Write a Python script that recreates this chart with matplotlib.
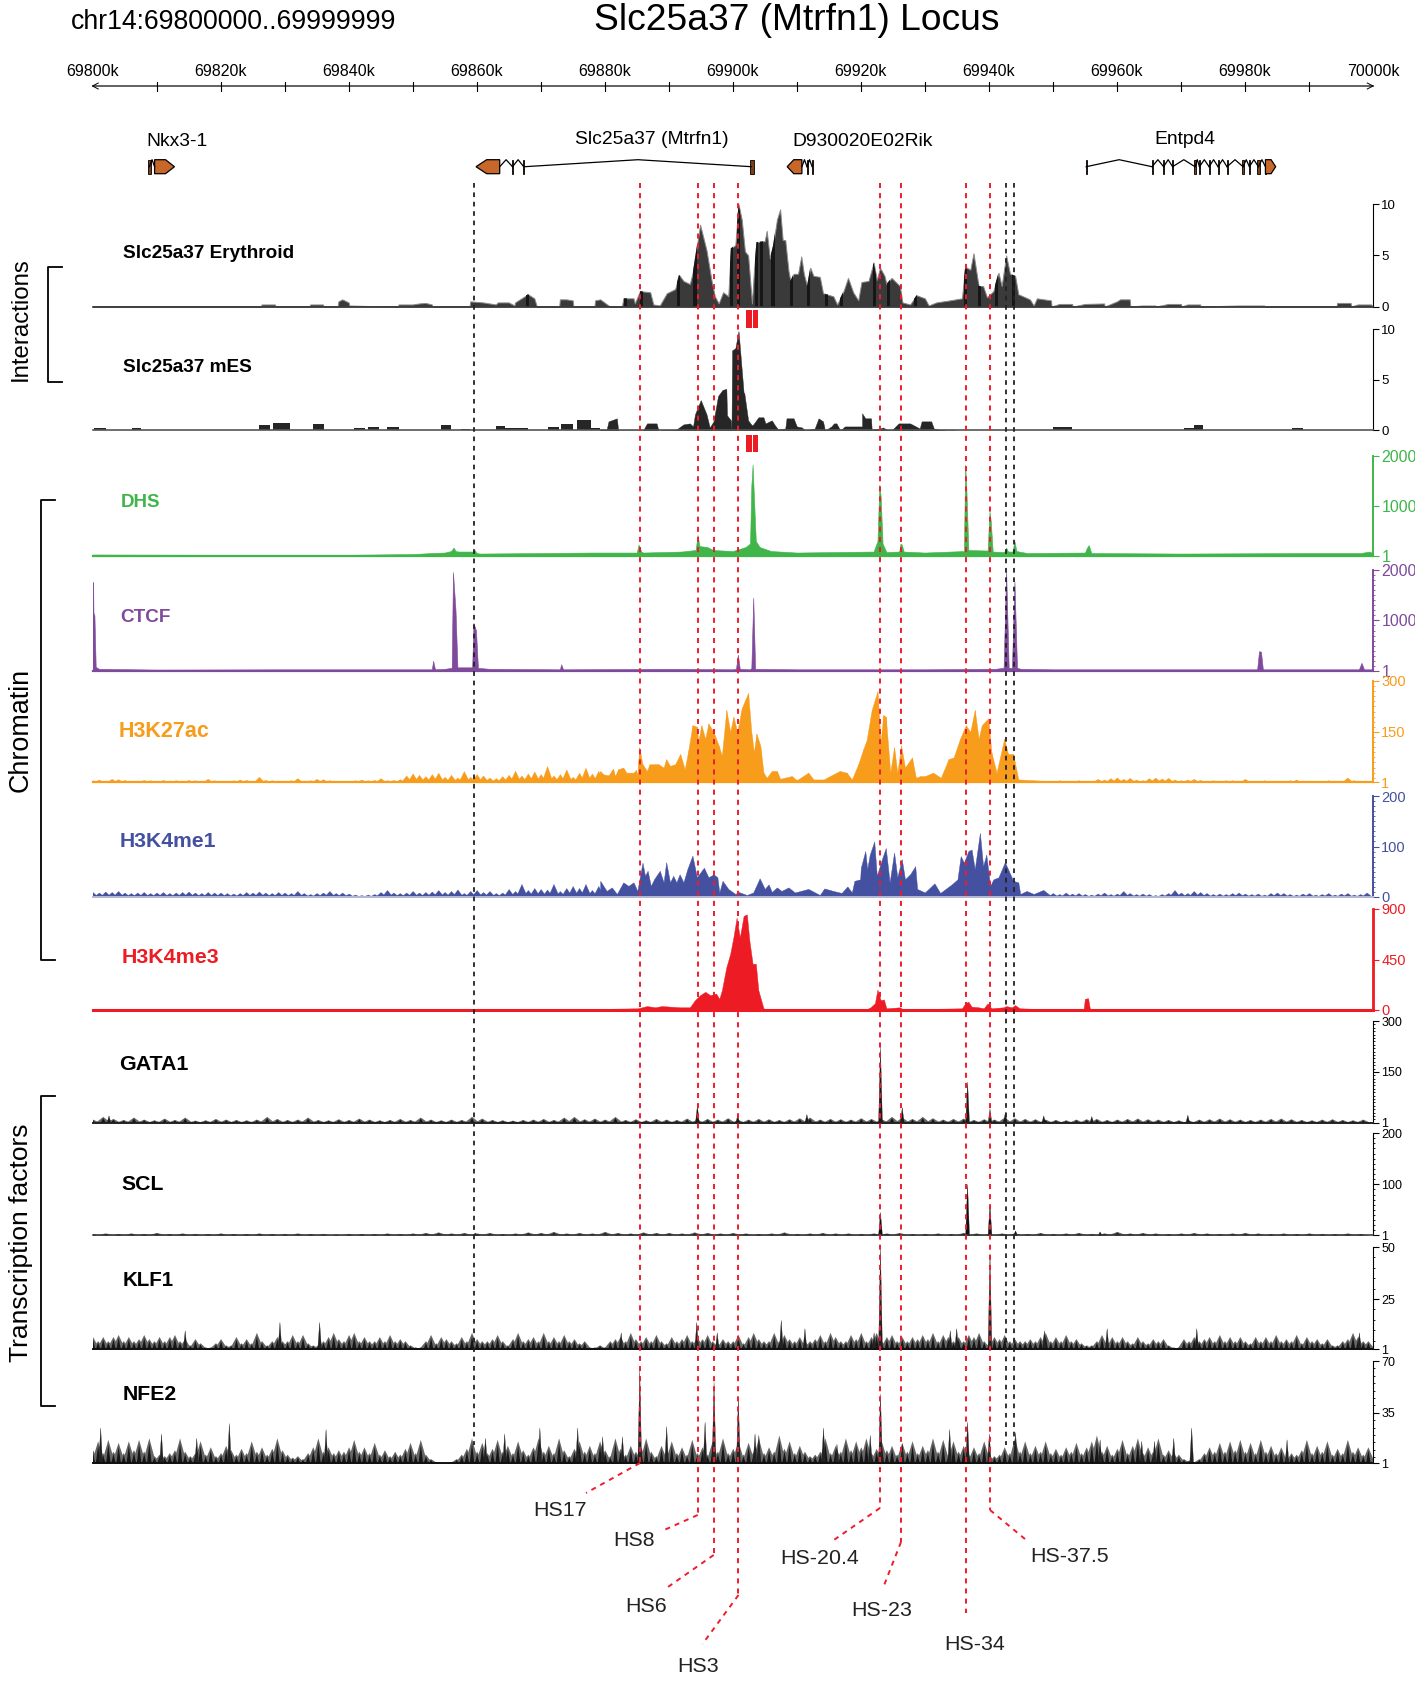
import numpy as np
import matplotlib
matplotlib.use("Agg")
import matplotlib.pyplot as plt
from matplotlib.ticker import MultipleLocator
from matplotlib.transforms import ScaledTranslation

plt.rcParams["font.family"] = ["Liberation Sans", "DejaVu Sans"]

W, H = 1415, 1686
X0, X1 = 92.5, 1373.0

# all x values are kb from 69800k
ery_x = [0, 26.3, 26.4, 28.5, 28.6, 33.9, 34, 36, 36.1, 38.3, 38.4, 39, 40, 40.1, 43, 47.7, 47.8, 50, 51, 52, 53, 53.1,
         58.9, 59, 61, 62, 63, 63.3, 65, 65.9, 66, 67, 68, 69, 69.4, 72.9, 73, 74, 75, 75.1, 78.4, 78.5,
         79.3, 80.8, 82.7, 82.9, 84.5, 84.7, 85.5, 87.1, 87.6, 88.6, 89.7, 91, 91.6, 92.3, 93.3, 93.8, 94.9, 95.9,
         96.7, 97.2, 97.8, 98.5, 99.3, 99.7, 100.4, 100.9, 101.4, 101.9, 102.4, 103, 103.3, 103.7, 105, 105.3, 105.8,
         106.3, 106.9, 107.4, 107.8, 108.2, 108.7, 109, 109.5, 110.2, 110.7, 111.1, 111.6, 112.1, 112.6, 113.6, 114.1,
         115.7, 116.3, 117.3, 118, 118.8, 119.6, 120.1, 121.2, 122, 122.5, 123, 123.7, 124, 124.8, 126.1, 126.5,
         127.7, 128.7, 130, 130.6, 131.8, 133.9, 135.8, 136.3, 137.1, 137.6, 138.4, 139.1, 139.7, 140.7, 141.5,
         142, 142.7, 143.3, 144.1, 144.6, 146.4, 147, 147.5, 149.7, 149.8, 151, 153, 153.1, 155, 158, 158.1, 160,
         160.5, 162, 162.1, 163.9, 166, 166.1, 168, 170, 170.1, 171, 173, 173.1, 179, 183, 183.1, 194.3, 194.4, 196.5,
         196.6, 197.6, 199.7, 200]
ery_y = [0, 0, .2, .2, 0, 0, .2, .2, 0, 0, .5, .7, .4, .1, .05, 0, .2, .2, .3, .35, .2, 0,
         0, .5, .4, .3, .2, .4, .4, .1, .4, .8, 1.2, .8, 0, 0, .7, .7, .6, 0, 0, .6,
         .7, 0, 0, .8, .8, .3, 1.5, 1.4, .2, .1, 1.3, 1.7, 3.1, 2.5, 2.2, 3.5, 8, 5.5,
         2.5, 1, .3, 1.4, 1, 5.7, 6, 10, 8.5, 5.4, 5, .3, 3.4, 6.3, 6.4, 7.4, 4.7,
         6, 8.5, 9.5, 6.5, 6.5, 3.5, 2.5, 3.2, 3.2, 4.9, 3.2, 2, 3.8, 3, 2.9, 1.3,
         1, .2, 1.5, 2.8, 1.4, .6, 2.4, 2.5, 4.3, 2.6, 3.8, 3, 2.2, 2.8, 2, .4,
         .2, 1.1, .8, .1, .4, .6, .8, 3.9, 3.6, 5.2, 2, 2, .9, 1.5, 3.3,
         2, 5, 3.2, 3, 1.2, .7, .1, .8, .6, 0, .25, .25, 0, .25, .3, 0, .5,
         .7, .7, 0, .1, .1, 0, .25, .25, 0, .2, .2, 0, .1, .1, 0, 0, .35, .35,
         0, .2, .2, 0]
ery_dark_bands = [68, 83.2, 85.8, 91.5, 94.1, 99.8, 100.9, 103.7, 104.5, 106.3, 109.2, 111.8, 114.7, 117, 122.2, 124.3,
                  128.5, 136.3, 138.6, 141.2, 143.8]

mes_x = [79.3, 80.3, 80.6, 81.9, 82.1, 86, 86.6, 88.1, 88.4, 91.2, 92.3, 93.3, 93.8, 94.1, 95, 95.9, 96.4, 97, 97.7,
         98.4, 99, 99.1, 99.7, 99.8, 99.9, 100.4, 100.9, 101.7, 101.8, 102.4, 103, 103.2, 104, 104.8, 105.1, 106.1,
         106.6, 107.1, 108.2, 108.4, 109.5, 110, 110.8, 111.3, 112.8, 113.4, 114.1, 114.4, 115.4, 115.8, 116.2, 116.8,
         117.5, 118.3, 118.9, 120.2, 120.2, 120.7, 121.6, 121.7, 123, 123.5, 124, 124.8, 125.9, 127.7, 129.2, 129.5,
         131, 131.4, 132, 133.4, 133.5, 134.5, 134.8]
mes_y = [.1, .1, .9, 1.2, 0, 0, .7, .7, 0, .1, .6, .7, .4, 1.6, 3, 1.6, .3, .9, 3.4,
         4, 4.1, 1.5, 1, 0, 7.9, 8.1, 9.8, 3.7, 3.7, 1, .5, .6, 1.3, 1.3, .7, 1,
         .5, .1, .2, 1.2, 1.2, .4, .3, 0, .2, 1.2, .9, 0, .4, .7, .7, 0,
         .4, .4, .4, .4, 1.7, 1.2, 1.2, .1, .2, .3, .1, 0, .7, .7, .2, .9,
         .9, .2, .1, 0, 0, 0, 0]
mes_block_start = [.3, 6.2, 26, 28.2, 34.5, 40.9, 43, 46, 54.5, 57.6, 63, 64.4, 71.2, 73.1, 75.7, 77.8, 150, 170.5, 172, 187.3]
mes_block_end = [2.1, 7.6, 27.8, 30.9, 36.2, 42.6, 44.7, 47.8, 56, 59, 64.4, 68, 72.9, 75, 77.8, 79.3, 153, 172, 173.4, 189]
mes_block_val = [.2, .2, .5, .7, .6, .2, .3, .3, .5, .1, .4, .2, .3, .6, 1, .2, .3, .25, .5, .2]

dhs_x = [0, 20, 40, 50, 53, 55, 56, 56.4, 56.7, 57.2, 59.4, 59.7, 60, 60.5, 70, 78, 85, 85.3, 85.7, 86, 92, 94.2, 94.5, 94.8, 96, 97,
         100, 102, 102.7, 102.9, 103.1, 103.3, 103.6, 104.2, 106, 110, 122, 122.6, 122.9, 123.1, 123.4, 124, 126, 126.2, 126.4, 126.7, 130,
         136.1, 136.3, 136.5, 136.8, 139.8, 140.1, 140.3, 140.6, 142.4, 142.7, 143, 143.7, 144, 144.3, 146, 155, 155.3, 155.6, 156, 170, 190, 198, 199.5, 200]
dhs_y = [30, 25, 25, 40, 60, 70, 100, 170, 100, 90, 90, 120, 60, 50, 60, 70, 70, 230, 90, 70, 90, 120, 420, 200, 180, 120,
         100, 180, 250, 1400, 1830, 1200, 300, 180, 100, 70, 90, 300, 1430, 1200, 250, 80, 90, 250, 230, 90, 70,
         100, 1830, 1300, 120, 110, 890, 700, 90, 80, 170, 90, 90, 300, 100, 60, 70, 160, 220, 60, 50, 60, 60, 90, 50]

ctcf_x = [0, .1, .15, .3, .5, 1, 10, 30, 53, 53.2, 53.5, 55, 56.1, 56.3, 56.7, 57, 59.3, 59.5, 59.9, 60.2, 62, 73, 73.2, 73.5, 90, 100,
          100.5, 100.8, 101.1, 102.6, 102.9, 103.2, 103.5, 110, 130, 141, 142.3, 142.7, 143.1, 143.6, 144, 144.4, 145, 150, 181.9, 182.2, 182.5,
          182.8, 190, 197.8, 198.2, 198.6, 200]
ctcf_y = [1760, 1760, 1150, 1100, 80, 40, 25, 30, 30, 200, 30, 40, 60, 1960, 1200, 70, 70, 950, 800, 60, 40, 30, 130, 30, 40, 30,
          40, 320, 40, 30, 50, 1450, 40, 30, 30, 40, 60, 1980, 60, 60, 1770, 60, 40, 30, 30, 390, 380,
          30, 30, 30, 160, 30, 30]

k27_x = [79.3, 79.8, 80.6, 81.3, 81.6, 82.1, 82.9, 83.4, 84.5, 84.9, 85.1, 85.4, 85.9, 86.6, 87, 87.9, 88.4, 89.2, 89.6, 90.2,
         91, 91.8, 92.5, 93.1, 93.7, 94.4, 94.6, 95.1, 95.7, 96.2, 97, 97.8, 98.3, 99, 99.6, 100.1, 100.7, 101.4, 102.4, 102.9,
         103.3, 103.7, 104.3, 104.8, 105.3, 106.1, 106.9, 107.4, 109.2, 110, 111.8, 112.6, 114.2, 115.2, 116.7, 117.8, 118.6,
         119.6, 120.4, 120.9, 121.7, 122.6, 123.1, 123.5, 123.9, 124.6, 125.2, 125.7, 126.3, 126.9, 128, 128.6, 129.3, 130,
         131.3, 132.5, 133.7, 134.5, 135.5, 136.4, 137.1, 137.8, 138.4, 138.9, 139.9, 140.4, 141.2, 142.4, 143, 143.8, 144.6, 149.6]
k27_y = [35, 25, 22, 42, 20, 40, 45, 30, 30, 38, 20, 105, 55, 35, 55, 55, 55, 45, 70, 50,
         55, 85, 40, 100, 170, 165, 120, 170, 130, 175, 150, 110, 80, 215, 150, 195, 150, 220, 265, 150,
         90, 145, 110, 30, 15, 35, 35, 12, 20, 8, 30, 10, 10, 20, 35, 30, 10,
         55, 100, 125, 215, 270, 120, 200, 195, 30, 105, 30, 110, 45, 75, 15, 20, 20,
         30, 15, 70, 75, 130, 170, 150, 215, 130, 170, 190, 90, 30, 130, 85, 85, 10, 5]
k27_left = [8, 10, 7, 12, 11, 9, 6, 7, 9, 8, 5, 9, 7, 8, 7, 9, 8, 7, 12, 8, 6, 7, 8, 10, 9, 7, 18, 9, 8, 7,
            7, 8, 14, 7, 8, 12, 11, 8, 6, 6, 5, 8, 10, 8, 9, 14, 8, 9, 11, 22, 28, 24, 20, 26, 30, 18, 24, 16, 35, 18,
            26, 22, 16, 14, 20, 24, 36, 22, 28, 34, 26, 50, 22, 26, 40, 18, 30, 45, 28, 36]
k27_right = [6, 8, 7, 6, 8, 5, 6, 12, 10, 14, 16, 12, 15, 10, 8, 14, 16, 13, 15, 10, 8, 10, 12, 9, 7,
             8, 7, 8, 8, 7, 12, 6, 5, 8, 6, 7, 6, 8, 10, 7, 6, 5, 6, 8, 7, 5, 16, 8, 6, 5]

me1_x = [79.3, 80.3, 81.1, 81.9, 82.9, 83.7, 84.5, 85.1, 85.9, 86.3, 86.7, 87.2, 87.7, 88.6, 89.2, 89.6, 90.2, 90.7, 91.2, 91.7,
         92.3, 92.9, 93.7, 94.4, 94.9, 95.5, 96.2, 97, 97.6, 97.9, 98.4, 99.3, 100.4, 100.9, 102.2, 103.2, 104.2, 105, 105.6, 106.1,
         106.9, 107.6, 108.7, 109.7, 111.8, 113.6, 114.3, 115.7, 117, 117.9, 118.6, 119, 119.9, 120, 120.7, 121, 121.4, 122.1, 122.5, 123.3,
         123.9, 124.5, 125.2, 125.7, 126.4, 126.9, 127.7, 128.5, 128.8, 130, 131.5, 132.4, 134.2, 135.1, 135.6, 136.1, 136.8, 137.3, 137.8, 138.6,
         139.1, 139.6, 140.2, 140.7, 141.5, 142.5, 143, 143.8, 144.6, 144.9, 145.9, 147, 148.5, 149.6]
me1_y = [32, 12, 19, 6, 29, 22, 29, 12, 68, 42, 52, 22, 35, 52, 29, 69, 29, 42, 29, 45,
         29, 55, 82, 39, 48, 58, 39, 45, 39, 9, 32, 16, 6, 10, 4, 9, 37, 16, 25, 10,
         19, 12, 19, 9, 16, 4, 17, 12, 8, 21, 9, 32, 35, 58, 91, 55, 84, 110, 42, 75,
         97, 29, 88, 39, 75, 35, 45, 61, 16, 9, 27, 8, 25, 35, 81, 68, 91, 94, 55, 127,
         61, 84, 22, 35, 39, 69, 55, 32, 29, 6, 12, 6, 14, 3]
me1_left = [10, 9, 11, 10, 12, 9, 8, 9, 10, 8, 9, 10, 8, 9, 10, 11, 9, 8, 10, 9, 9, 8, 7, 8, 10, 9, 11, 9, 8, 10,
            9, 8, 12, 8, 6, 8, 9, 12, 8, 9, 7, 5, 4, 5, 6, 10, 14, 9, 8, 9, 12, 9, 10, 11, 14, 10, 12, 15, 8, 12,
            14, 10, 12, 8, 9, 16, 12, 26, 14, 18, 16, 15, 26, 12, 18, 22, 18, 26, 14, 22]
me1_right = [8, 6, 9, 7, 8, 6, 5, 7, 9, 6, 7, 12, 8, 6, 7, 6, 4, 6, 8, 14, 9, 8, 12, 10, 8,
             6, 7, 6, 8, 9, 7, 6, 7, 5, 8, 9, 8, 6, 5, 7, 8, 5, 6, 8, 5, 7, 8, 5, 6, 9]

me3_x = [0, 60, 79.3, 85.2, 86.6, 87.9, 88.9, 91.8, 93.3, 94.1, 94.9, 95.7, 96.5, 97.4, 97.9, 98.3, 99, 99.6, 100.1, 100.6,
         101.1, 101.7, 102.2, 102.6, 103.1, 103.6, 104, 104.8, 105.3, 120.9, 121.5, 122.2, 122.6, 123.1, 123.6, 124, 126.1, 126.6,
         135.8, 136.3, 136.8, 137.3, 138.4, 139.2, 139.8, 140.4, 142.3, 142.7, 143.6, 144.1, 144.8, 149.6, 154.8, 155, 155.5, 155.8, 200]
me3_y = [0, 5, 10, 15, 35, 24, 35, 24, 24, 88, 132, 162, 132, 147, 100, 176, 382, 500, 647, 823,
         647, 838, 853, 617, 412, 412, 176, 15, 6, 6, 24, 59, 182, 88, 94, 15, 24, 6,
         15, 59, 74, 30, 24, 15, 59, 15, 24, 35, 24, 44, 15, 6, 5, 100, 105, 5, 0]

# GATA1 / SCL backgrounds, then sharp peaks on top
gata1_bg = [11, 19, 13, 10, 17, 11, 9, 14, 10, 17, 8, 9, 13, 11, 10, 9, 11, 19, 13, 10, 11, 17, 10, 9, 12, 10, 14, 11, 9, 10,
            13, 10, 17, 11, 9, 11, 10, 19, 14, 10, 9, 8, 10, 11, 13, 10, 17, 19, 12, 14, 11, 19, 10, 12, 9, 13, 11, 10, 14, 11,
            13, 11, 15, 10, 11, 13, 12, 10, 12, 15, 17, 11, 13, 12, 11, 15, 13, 12, 19, 17, 13, 19, 15, 11, 13, 14, 10, 12, 11, 17,
            15, 13, 12, 11, 10, 9, 11, 12, 13, 10, 11, 13, 14, 12, 11, 10, 9, 8, 11, 12, 14, 12, 11, 10, 11, 13, 14, 12, 10, 9,
            11, 12, 10, 9, 11]
gata1_pk_x = [94.4, 100.7, 111.5, 123, 126.4, 136.6, 140.1, 142.5, 156, 171, 148.5, 2.5]
gata1_pk_y = [52, 24, 26, 225, 46, 122, 42, 32, 20, 24, 22, 22]
scl_bg = [4, 5, 4, 5, 4, 6, 4, 5, 4, 4, 5, 4, 4, 5, 4, 4, 5, 4, 4, 3, 4, 4, 4, 5, 4, 5, 6, 7, 5, 6, 5, 6, 4, 5, 7, 6, 8, 5, 6, 5,
          8, 6, 5, 7, 6, 6, 5, 7, 6, 5, 6, 5, 4, 5, 7, 4, 5, 6, 5, 5, 4, 5, 5, 6, 4, 4, 5, 4, 6, 5, 4, 5, 5, 4, 6, 4, 5, 6, 4, 5,
          8, 5, 6, 5, 4, 5, 6, 5, 4, 5, 6, 5, 4, 5, 4, 5, 4, 4, 5, 4]
scl_pk_x = [123, 136.6, 140.1, 144.1, 157.3, 59.7]
scl_pk_y = [46, 101, 62, 10, 8, 6]

klf1_bg = [7, 5, 7, 5, 7, 8, 5, 7, 5, 6, 8, 6, 5, 7, 5, 7, 8, 5, 6, 3, 6, 4, 2, 2, 4,
           6, 3, 3, 7, 4, 6, 4, 9, 5, 3, 5, 7, 5, 5, 8, 5, 8, 4, 3, 3, 5, 7, 9, 6, 5,
           8, 9, 5, 7, 5, 5, 7, 5, 8, 5, 6, 5, 3, 2, 2, 5, 8, 4, 7, 6, 5, 4, 7, 5, 9,
           6, 5, 5, 6, 8, 5, 3, 6, 9, 5, 6, 7, 5, 9, 5, 7, 5, 8, 5, 6, 4, 5, 2, 2, 3,
           2, 5, 6, 7, 5, 9, 6, 5, 7, 5, 8, 5, 4, 7, 5, 6, 8, 5, 7, 6, 8, 5, 4, 6, 5,
           5, 8, 4, 7, 9, 6, 5, 5, 9, 5, 8, 6, 5, 7, 5, 5, 6, 8, 5, 9, 7, 5, 5, 8, 6,
           9, 5, 7, 9, 5, 7, 8, 5, 7, 5, 7, 6, 8, 6, 9, 5, 8, 7, 5, 7, 5, 8, 7, 9, 5,
           4, 7, 6, 8, 5, 6, 5, 5, 6, 5, 7, 9, 5, 7, 5, 8, 5, 6, 4, 3, 3, 5, 8, 5, 7,
           5, 7, 5, 4, 7, 5, 4, 6, 5, 6, 3, 2, 2, 6, 5, 7, 5, 6, 7, 5, 8, 5, 7, 5, 7,
           5, 4, 7, 5, 7, 5, 8, 5, 6, 5, 8, 4, 7, 5, 6, 4, 6, 3, 3, 5, 6, 9, 7, 5, 5]
klf1_pk_x = [14.4, 29.2, 35.4, 94.3, 107.5, 111.2, 123, 133.9, 134.9, 140.1, 148.6, 158.4, 172.4, 197.8, 82.5, 122, 97.5]
klf1_pk_y = [10, 14, 14, 14, 15, 11, 50, 10, 11, 47, 10, 11, 11, 9, 9, 9, 9]

nfe2_bg = [10, 16, 8, 17, 9, 15, 8, 16, 10, 17, 9, 18, 6, 7, 6, 8, 10, 18, 9, 6, 8, 16, 7, 12, 6,
           8, 13, 10, 7, 11, 8, 16, 9, 12, 7, 11, 18, 10, 7, 5, 6, 4, 8, 12, 18, 9, 12, 8, 10, 9,
           12, 17, 9, 12, 8, 15, 7, 10, 6, 9, 7, 11, 15, 8, 17, 7, 4, 2, 1, 1, 2, 4, 7, 11, 18,
           9, 15, 8, 11, 17, 9, 13, 8, 16, 10, 7, 12, 18, 9, 13, 8, 18, 10, 6, 11, 16, 9, 13, 8, 16,
           10, 6, 18, 11, 7, 13, 9, 12, 18, 9, 6, 13, 10, 16, 8, 12, 7, 17, 8, 12, 7, 16, 9, 18, 8,
           11, 16, 7, 15, 9, 18, 8, 12, 9, 20, 11, 16, 8, 13, 9, 6, 7, 9, 18, 8, 13, 9, 18, 10, 16,
           12, 18, 8, 11, 16, 10, 13, 7, 15, 9, 16, 8, 13, 10, 18, 9, 17, 7, 16, 9, 13, 7, 12, 8, 16,
           7, 6, 7, 12, 8, 18, 9, 16, 8, 13, 9, 16, 8, 11, 7, 12, 9, 15, 8, 12, 16, 20, 9, 13, 7,
           11, 17, 8, 13, 18, 8, 12, 9, 18, 7, 10, 8, 7, 4, 3, 2, 4, 8, 12, 9, 15, 9, 16, 10, 17,
           9, 15, 8, 17, 9, 13, 8, 12, 6, 8, 7, 10, 17, 8, 13, 9, 16, 7, 11, 8, 17, 9, 12, 7, 12]
nfe2_pk_x = [1.2, 10.7, 16.2, 21.3, 36.4, 61.3, 64.3, 69.8, 75.7, 79.6, 82.7, 85.4, 89.6, 95.6, 97, 100.8, 103.4, 104,
             114.1, 116.2, 121.4, 123, 126.4, 133.8, 136.6, 140, 144.1, 157.3, 163.8, 165.8, 168.8, 171.6, 186.5]
nfe2_pk_y = [25, 21, 18, 28, 24, 18, 21, 25, 25, 19, 19, 64, 26, 29, 56, 45, 21, 20,
             25, 14, 20, 48, 14, 24, 29, 21, 22, 17, 16, 16, 18, 25, 17]

HS_LINES = [85.51, 94.52, 97.02, 100.82, 123.0, 126.3, 136.5, 140.2]
BLACK_LINES = [59.6, 142.7, 144.0]
RED_BAR_START = [102.0, 103.1]
RED_BAR_END = [102.96, 103.9]


def px2kb(p):
    return (p - X0) / (X1 - X0) * 200.0


fig = plt.figure(figsize=(W / 100, H / 100), dpi=100, facecolor="white")


def track_ax(top, base, ymin, ymax, ticks, color, fs, minor=None, lw=1.0, top_shift=0):
    ax = fig.add_axes([X0 / W, 1 - base / H, (X1 - X0) / W, (base - top) / H])
    ax.set_xlim(0, 200)
    ax.set_ylim(ymin, ymax)
    ax.patch.set_alpha(0)
    for s in ["left", "top", "bottom"]:
        ax.spines[s].set_visible(False)
    ax.spines["right"].set_color(color)
    ax.spines["right"].set_linewidth(lw)
    ax.xaxis.set_visible(False)
    ax.yaxis.tick_right()
    ax.set_yticks(ticks)
    labels = ax.set_yticklabels([str(t) for t in ticks], fontsize=fs, color=color)
    if top_shift:
        labels[-1].set_transform(labels[-1].get_transform() + ScaledTranslation(0, -top_shift / 100, fig.dpi_scale_trans))
    ax.tick_params(axis="y", which="major", length=4, width=0.8, color=color, pad=2)
    if minor:
        ax.yaxis.set_minor_locator(MultipleLocator(minor))
        ax.tick_params(axis="y", which="minor", length=1.5, width=0.6, color=color)
    return ax


def baseline(ax, y, color, lw):
    ax.axhline(y, color=color, lw=lw, clip_on=False, zorder=5)


def spikes(ax, xs, ys, base, color, hw=0.3):
    for x, y in zip(xs, ys):
        ax.fill_between([x - hw, x, x + hw], base, [base, y, base], color=color, lw=0.2)


def noise(ax, xs, ys, base, hw):
    # grey flank with a dark core, same look as the browser tracks
    for x, y in zip(xs, ys):
        ax.fill_between([x - hw, x, x + hw], base, [base, y, base], color="#666666", lw=0)
    for x, y in zip(xs, ys):
        core = base + (y - base) * 0.8
        ax.fill_between([x - hw * 0.35, x, x + hw * 0.35], base, [base, core, base], color="#161616", lw=0)


DARK = "#3a3a3a"
GREEN, PURPLE, ORANGE, BLUE, RED = "#3fb54a", "#7f4a9c", "#f89c1c", "#4450a0", "#ed1c24"

# interactions
ax = track_ax(204.3, 306.5, 0, 10, [0, 5, 10], "black", 9.5, minor=None, lw=0.8)
poly = ax.fill_between(ery_x, 0, ery_y, facecolor=DARK, edgecolor="#8a8a8a", lw=0.7)
for k in ery_dark_bands:
    band = ax.axvspan(k - 0.25, k + 0.25, color="#161616", lw=0)
    band.set_clip_path(poly.get_paths()[0], ax.transData)
baseline(ax, 0, "#333333", 1.2)

ax = track_ax(329, 430.5, 0, 10, [0, 5, 10], "black", 9.5, lw=0.8)
ax.fill_between(mes_x, 0, mes_y, color="#262626", lw=0.3)
ax.bar(mes_block_start, mes_block_val, np.array(mes_block_end) - np.array(mes_block_start), align="edge", color="#262626")
baseline(ax, 0, "#555555", 1.2)

# chromatin
ax = track_ax(456, 556, 1, 2000, [1, 1000, 2000], GREEN, 11.5, lw=1.4)
ax.fill_between(dhs_x, 1, dhs_y, color=GREEN, lw=0.4)
baseline(ax, 1, GREEN, 1.6)

ax = track_ax(570, 670.8, 1, 2000, [1, 1000, 2000], PURPLE, 11.5, minor=100, lw=1.4)
ax.fill_between(ctcf_x, 1, ctcf_y, color=PURPLE, lw=0.4)
baseline(ax, 1, PURPLE, 1.6)

ax = track_ax(681, 782.5, 1, 300, [1, 150, 300], ORANGE, 10.5, minor=15, lw=1.4, top_shift=3)
spikes(ax, np.arange(len(k27_left)), k27_left, 1, ORANGE, hw=0.9)
ax.fill_between(k27_x, 1, k27_y, color=ORANGE, lw=0.3)
spikes(ax, k27_x, k27_y, 1, ORANGE, hw=0.35)
spikes(ax, np.arange(len(k27_right)) + 150, k27_right, 1, ORANGE, hw=0.9)
baseline(ax, 1, ORANGE, 1.6)

ax = track_ax(796, 897, 0, 200, [0, 100, 200], BLUE, 10.5, minor=10, lw=1.4, top_shift=3)
spikes(ax, np.arange(len(me1_left)), me1_left, 0, BLUE, hw=0.9)
ax.fill_between(me1_x, 0, me1_y, color=BLUE, lw=0.3)
spikes(ax, np.arange(len(me1_right)) + 150, me1_right, 0, BLUE, hw=0.9)
baseline(ax, 0, "#b5b9d8", 1.4)

ax = track_ax(909, 1010, 0, 900, [0, 450, 900], RED, 10.5, lw=2.0)
ax.fill_between(me3_x, 0, me3_y, color=RED, lw=0.3)
baseline(ax, 0, RED, 2.2)

# transcription factors
ax = track_ax(1021, 1122.5, 1, 300, [1, 150, 300], "black", 9, minor=10, lw=0.8)
noise(ax, np.arange(len(gata1_bg)) * 1.6, gata1_bg, 1, 1.2)
spikes(ax, gata1_pk_x, gata1_pk_y, 1, "#1a1a1a")
baseline(ax, 1, "#222222", 1.4)

ax = track_ax(1133, 1235, 1, 200, [1, 100, 200], "black", 9, minor=10, lw=0.8)
noise(ax, np.arange(len(scl_bg)) * 2.0, scl_bg, 1, 1.5)
spikes(ax, scl_pk_x, scl_pk_y, 1, "#111111")
baseline(ax, 1, "#333333", 1.1)

ax = track_ax(1247, 1349, 1, 50, [1, 25, 50], "black", 9, minor=5, lw=0.8)
noise(ax, np.arange(len(klf1_bg)) * 0.8, klf1_bg, 1, 1.05)
spikes(ax, klf1_pk_x, klf1_pk_y, 1, "#222222")
baseline(ax, 1, "#111111", 1.4)

ax = track_ax(1361, 1463, 1, 70, [1, 35, 70], "black", 9, minor=5, lw=0.8)
noise(ax, np.arange(len(nfe2_bg)) * 0.8, nfe2_bg, 1, 1.05)
spikes(ax, nfe2_pk_x, nfe2_pk_y, 1, "#222222")
baseline(ax, 1, "#111111", 1.4)

# full-figure overlay: x in kb, y in pixels from the top
ov = fig.add_axes([0, 0, 1, 1], zorder=10)
ov.set_xlim(px2kb(0), px2kb(W))
ov.set_ylim(H, 0)
ov.axis("off")
ov.patch.set_alpha(0)

# ruler
ov.plot([0, 200], [86, 86], color="#555555", lw=1.3)
for k in range(10, 200, 10):
    ov.plot([k, k], [81.5, 90.5], color="black", lw=0.8)
ov.plot([0.9, 0, 0.9], [83, 86, 89], color="black", lw=0.7)
ov.plot([199.1, 200, 199.1], [83, 86, 89], color="black", lw=0.7)
for k in range(0, 201, 20):
    ov.text(k, 72, f"{69800 + k}k", ha="center", va="center", fontsize=11.5)

ov.text(px2kb(797), 21, "Slc25a37 (Mtrfn1) Locus", ha="center", va="center", fontsize=26.8)
ov.text(px2kb(71), 22, "chr14:69800000..69999999", ha="left", va="center", fontsize=19.2)

# gene models
GENE_Y, GENE_H = 166.7, 7.0
BROWN = "#c8672a"


def arrow(x0, x1, left):
    t = (x1 - x0) * 0.45
    if left:
        xs = [x0, x0 + t, x1, x1, x0 + t, x0]
        ys = [GENE_Y, GENE_Y - GENE_H, GENE_Y - GENE_H, GENE_Y + GENE_H, GENE_Y + GENE_H, GENE_Y]
    else:
        xs = [x0, x1 - t, x1, x1 - t, x0, x0]
        ys = [GENE_Y - GENE_H, GENE_Y - GENE_H, GENE_Y, GENE_Y + GENE_H, GENE_Y + GENE_H, GENE_Y - GENE_H]
    ov.fill(xs, ys, facecolor=BROWN, edgecolor="black", lw=0.9)


def exon(x, wide=0.25):
    ov.fill([x - wide, x + wide, x + wide, x - wide], [GENE_Y - GENE_H] * 2 + [GENE_Y + GENE_H] * 2,
            facecolor="#7a3f14", edgecolor="black", lw=0.6)


def intron(a, b, peak=7.0):
    ov.plot([a, (a + b) / 2, b], [GENE_Y, GENE_Y - peak, GENE_Y], color="black", lw=0.9)


exon(8.9)
intron(8.9, 9.7)
arrow(9.7, 12.8, False)

arrow(59.9, 63.6, True)
slc_exons = [63.6, 65.6, 67.35]
for a, b in zip(slc_exons[:-1], slc_exons[1:]):
    intron(a, b)
for x in slc_exons[1:]:
    exon(x, 0.08)
intron(67.5, 102.9)
exon(103.0)

arrow(108.5, 110.8, True)
for x in [111.6, 112.4]:
    exon(x, 0.08)
intron(110.8, 111.6)
intron(111.6, 112.4)

ent_exons = [155.2, 165.5, 167.3, 168.7, 172.2, 172.9, 174.4, 175.8, 177.2, 179.7, 180.7, 182.1, 183.2]
for a, b in zip(ent_exons[:-1], ent_exons[1:]):
    intron(a, b)
for x in ent_exons:
    exon(x, 0.2 if x in (179.7, 182.1) else 0.08)
arrow(183.2, 184.8, False)

ov.text(px2kb(177), 141, "Nkx3-1", ha="center", va="center", fontsize=13.9)
ov.text(px2kb(652), 139, "Slc25a37 (Mtrfn1)", ha="center", va="center", fontsize=13.9)
ov.text(px2kb(863), 142, "D930020E02Rik", ha="center", va="center", fontsize=13.9)
ov.text(px2kb(1185), 139, "Entpd4", ha="center", va="center", fontsize=13.9)

# track names
names = [("Slc25a37 Erythroid", 122.6, 253.5, "black", 13.7), ("Slc25a37 mES", 122.6, 367, "black", 13.7),
         ("DHS", 120.4, 502.5, GREEN, 13.5), ("CTCF", 120.4, 617.5, PURPLE, 13.6), ("H3K27ac", 119, 731.5, ORANGE, 15.5),
         ("H3K4me1", 120, 841.5, BLUE, 15.2), ("H3K4me3", 121.5, 957.5, RED, 15.4), ("GATA1", 119, 1065, "black", 15.4),
         ("SCL", 121.5, 1184, "black", 15.3), ("KLF1", 122.5, 1280, "black", 14.8), ("NFE2", 122.5, 1395, "black", 15.3)]
for name, px, py, col, fs in names:
    ov.text(px2kb(px), py, name, ha="left", va="center", fontsize=fs, fontweight="bold", color=col)

# group labels and brackets
for name, py, fs in [("Interactions", 319, 17.3), ("Chromatin", 730, 19.4), ("Transcription factors", 1243, 19)]:
    ov.text(px2kb(21), py, name, rotation=90, ha="center", va="center", fontsize=fs)
for px, top, bot in [(48.4, 266.7, 381.7), (41, 500, 960), (41, 1095.6, 1406)]:
    ov.plot(px2kb(np.array([px + 14, px, px, px + 14])), [top, top, bot, bot], color="black", lw=1.3)

# red markers under the interaction tracks
for s, e in zip(RED_BAR_START, RED_BAR_END):
    for t, b in [(310, 327.7), (435, 452)]:
        ov.fill([s, e, e, s], [t, t, b, b], color=RED, lw=0)

# dashed guide lines, red ones run on to the HS labels
DASH = (0, (2.6, 2.6))
REDLINE = "#ee1c2e"
leaders = {
    85.51: ([183, 1463], [640, 586], [1463, 1493]),
    94.52: ([183, 1515], [697.7, 662], [1515, 1531]),
    97.02: ([183, 1555], [713.7, 666.5], [1555, 1588]),
    100.82: ([183, 1595], [738.5, 702.5], [1595, 1644]),
    123.0: ([183, 1508], [880, 831], [1508, 1542]),
    126.3: ([183, 1542], [901, 883], [1542, 1588]),
    136.5: ([183, 1613], None, None),
    140.2: ([183, 1510], [990, 1028.6], [1510, 1542]),
}
for k in HS_LINES:
    ys, lx, ly = leaders[k]
    ov.plot([k, k], ys, color=REDLINE, lw=1.4, ls=DASH)
    if lx is not None:
        ov.plot(px2kb(np.array(lx)), ly, color=REDLINE, lw=1.4, ls=DASH)
for k in BLACK_LINES:
    ov.plot([k, k], [183, 1445], color="#222222", lw=1.3, ls=DASH)

hs_labels = [("HS17", 560, 1511), ("HS8", 634, 1541), ("HS6", 646.5, 1606), ("HS3", 697.7, 1667),
             ("HS-20.4", 820, 1559), ("HS-23", 882, 1611), ("HS-34", 975, 1644), ("HS-37.5", 1070, 1557)]
for name, px, py in hs_labels:
    ov.text(px2kb(px), py, name, ha="center", va="center", fontsize=15.4, color="#222222")

fig.savefig("out.png", dpi=100)
